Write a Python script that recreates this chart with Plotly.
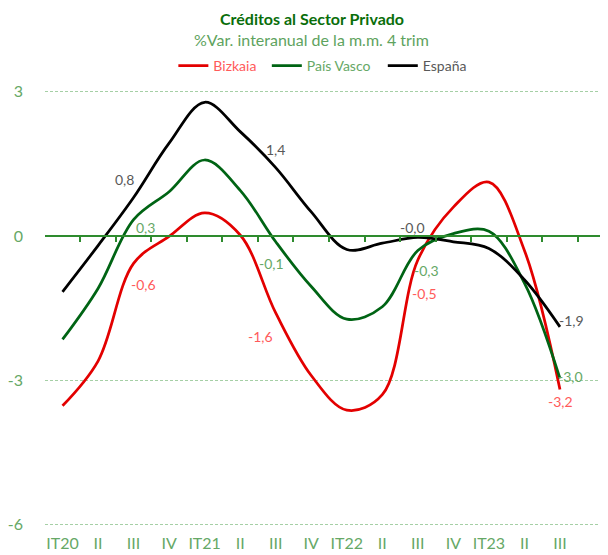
import plotly.graph_objects as go

# ---- data ----
categories = ["IT20", "II", "III", "IV", "IT21", "II", "III", "IV",
              "IT22", "II", "III", "IV", "IT23", "II", "III"]
bizkaia = [-3.53, -2.6, -0.57, -0.01, 0.48, 0.02, -1.6, -2.9, -3.62, -3.3,
           -0.5, 0.6, 1.12, -0.3, -3.19]
pais_vasco = [-2.15, -1.09, 0.34, 0.92, 1.58, 0.95, -0.12, -1.05, -1.73, -1.47,
              -0.3, 0.05, 0.1, -0.98, -2.96]
espana = [-1.16, -0.2, 0.8, 1.93, 2.78, 2.17, 1.42, 0.5, -0.28, -0.15,
          -0.03, -0.12, -0.26, -0.91, -1.89]
label_idx = [2, 6, 10, 14]
y_ticks = [-6, -3, 0, 3]

# ---- styles ----
FONT = "Lato"
OFF = 8  # page body margin
W, H = 608 - OFF, 555 - OFF
ML, MR, MT, MB = 42 - OFF, 0, 89 - OFF, 28
PH = H - MT - MB
YR = [-6.05, 3.056]
XR = [-0.493, 15.352]

series = [
    dict(name="Bizkaia", y=bizkaia, color="#e30000", txt="#ff5a5a",
         offs=[(10, 21), (-15, 24), (7, 33), (1, 12)], lx=0.228),
    dict(name="País Vasco", y=pais_vasco, color="#006414", txt="#66a866",
         offs=[(12, 8), (-4, 22), (9, 20), (11, -2)], lx=0.394),
    dict(name="España", y=espana, color="#000000", txt="#595959",
         offs=[(-9, -18), (0, -18), (-5, -10), (12, -6)], lx=0.600),
]

x = list(range(len(categories)))
fig = go.Figure()
annotations = []
legend_layouts = {}
for i, s in enumerate(series):
    lg = "legend" if i == 0 else f"legend{i+1}"
    fig.add_trace(go.Scatter(
        x=x, y=s["y"], mode="lines", name=s["name"],
        line=dict(color=s["color"], width=2.75, shape="spline", smoothing=1.0),
        legend=lg, hoverinfo="skip"))
    legend_layouts[lg] = dict(
        orientation="h", x=s["lx"], xanchor="left", y=1.0525, yanchor="middle",
        font=dict(family=FONT, size=14, color=s["txt"]),
        bgcolor="rgba(0,0,0,0)", itemwidth=30)
    for k, (dx, dy) in zip(label_idx, s["offs"]):
        annotations.append(dict(
            x=k, y=s["y"][k], xref="x", yref="y",
            text=f"{s['y'][k]:.1f}".replace(".", ","),
            showarrow=False, xanchor="center", yanchor="middle",
            xshift=dx, yshift=-dy,
            font=dict(family=FONT, size=14, color=s["txt"])))

# invisible trace to carry the zero-line axis with its tick marks
fig.add_trace(go.Scatter(x=[XR[0]], y=[0], xaxis="x2", mode="markers",
                         marker=dict(opacity=0), showlegend=False,
                         hoverinfo="skip"))

annotations.append(dict(
    x=0.4735, y=1 + (MT - (18.3 - OFF)) / PH, xref="paper", yref="paper",
    text="<b>Créditos al Sector Privado</b>", showarrow=False,
    xanchor="center", yanchor="middle",
    font=dict(family=FONT, size=16, color="#0a6e0a")))
annotations.append(dict(
    x=0.4735, y=1 + (MT - (39.3 - OFF)) / PH, xref="paper", yref="paper",
    text="%Var. interanual de la m.m. 4 trim", showarrow=False,
    xanchor="center", yanchor="middle",
    font=dict(family=FONT, size=16, color="#5ea35e")))

zero_pos = (0 - YR[0]) / (YR[1] - YR[0])

fig.update_layout(
    width=W, height=H,
    margin=dict(l=ML, r=MR, t=MT, b=MB, pad=0),
    paper_bgcolor="white", plot_bgcolor="white",
    font=dict(family=FONT),
    annotations=annotations,
    xaxis=dict(range=XR, tickvals=x, ticktext=categories, showgrid=False,
               zeroline=False, showline=False, ticks="",
               ticklabelstandoff=5,
               tickfont=dict(family=FONT, size=16, color="#66a866")),
    xaxis2=dict(range=XR, overlaying="x", anchor="free", position=zero_pos,
                side="bottom", showline=True, linecolor="#2e8b2e", linewidth=1.5,
                tickvals=[k - 0.5 for k in range(17)], ticks="outside",
                ticklen=5, tickwidth=1.5, tickcolor="#2e8b2e",
                showticklabels=False, showgrid=False, zeroline=False),
    yaxis=dict(range=YR, tickvals=y_ticks, ticktext=[str(v) for v in y_ticks],
               showgrid=True, gridcolor="#a5cfa5", griddash="3px,2px", gridwidth=1,
               zeroline=False, showline=False, ticks="",
               ticklabelstandoff=21,
               tickfont=dict(family=FONT, size=16, color="#66a866")),
    **legend_layouts,
)

fig.write_html("out.html")
